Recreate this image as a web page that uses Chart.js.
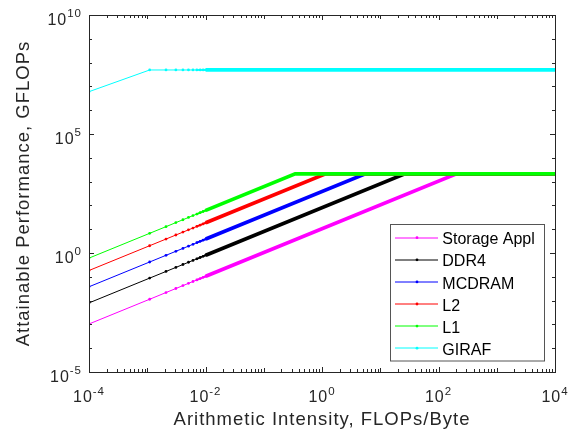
<!DOCTYPE html>
<html>
<head>
<meta charset="utf-8">
<script src="https://cdn.jsdelivr.net/npm/chart.js@4/dist/chart.umd.min.js"></script>
<style>
  html, body { margin: 0; padding: 0; background: #fff; }
  #wrap { width: 577px; height: 432px; }
</style>
</head>
<body>
<div id="wrap"><canvas id="roofline" width="577" height="432"></canvas></div>
<script>
// ========== DADOS ==========
// intensidade aritmética (FLOPs/Byte) dos marcadores visíveis
const markerX = [0.0001, 0.0011, 0.0021, 0.0031, 0.0041, 0.0051, 0.0061, 0.0071, 0.0081, 0.0091, 0.0101];

// desempenho (GFLOPs) em cada markerX
const storageAppl = [0.00104, 0.0114, 0.0218, 0.0322, 0.0426, 0.053, 0.0634, 0.0738, 0.0842, 0.0946, 0.105];
const ddr4 = [0.0080, 0.088, 0.168, 0.248, 0.328, 0.408, 0.488, 0.568, 0.648, 0.728, 0.808];
const mcdram = [0.0381, 0.419, 0.800, 1.18, 1.56, 1.94, 2.32, 2.71, 3.09, 3.47, 3.85];
const l2 = [0.184, 2.02, 3.86, 5.70, 7.54, 9.38, 11.2, 13.1, 14.9, 16.7, 18.6];
const l1 = [0.61, 6.71, 12.8, 18.9, 25.0, 31.1, 37.2, 43.3, 49.4, 55.5, 61.6];
const giraf = [6.0e6, 4.9e7, 4.9e7, 4.9e7, 4.9e7, 4.9e7, 4.9e7, 4.9e7, 4.9e7, 4.9e7, 4.9e7];

// ponto de cotovelo (ridge) e teto de cada série
const ridgeX = [203, 26.4, 5.54, 1.15, 0.346, 0.0011];
const peakY = [2110, 2110, 2110, 2110, 2110, 4.9e7];
const maxX = 1e4;

const seriesNames = ['Storage Appl', 'DDR4', 'MCDRAM', 'L2', 'L1', 'GIRAF'];
const seriesValues = [storageAppl, ddr4, mcdram, l2, l1, giraf];
const seriesColors = ['#ff00ff', '#000000', '#0000ff', '#ff0000', '#00ff00', '#00ffff'];

// ticks
const xMajorTicks = [1e-4, 1e-2, 1, 1e2, 1e4];
const xTickLabels = ['-4', '-2', '0', '2', '4'];
const yMajorTicks = [1e-5, 1, 1e5, 1e10];
const yTickLabels = ['-5', '0', '5', '10'];

const AXIS_COLOR = '#262626';
const FONT = "'Liberation Sans', Arial, Helvetica, sans-serif";

function buildPoints(vals, i) {
    const pts = markerX.map((x, k) => ({ x: x, y: vals[k] }));
    if (ridgeX[i] > markerX[markerX.length - 1]) {
        pts.push({ x: ridgeX[i], y: peakY[i] });
    }
    pts.push({ x: maxX, y: peakY[i] });
    return pts;
}

// marcadores se juntam a partir de ~1e-2, a linha fica grossa
function segmentWidth(ctx) {
    const x0 = ctx.p0.parsed.x;
    if (x0 >= 0.0101) return 3.7;
    if (x0 >= 0.0071) return 1.8;
    return 1;
}

const datasets = seriesValues.map((vals, i) => ({
    label: seriesNames[i],
    data: buildPoints(vals, i),
    showLine: true,
    borderColor: seriesColors[i],
    backgroundColor: seriesColors[i],
    borderWidth: 1,
    pointRadius: ctx => (ctx.dataIndex < markerX.length ? 1.4 : 0),
    pointBorderWidth: 0,
    pointBackgroundColor: seriesColors[i],
    borderJoinStyle: 'miter',
    segment: { borderWidth: segmentWidth },
    order: seriesNames.length - i
}));

// ========== EIXOS ESTILO MATLAB ==========
function drawPow(ctx, exp, x, baseMain, baseSup, align) {
    ctx.font = '16px ' + FONT;
    const w10 = ctx.measureText('10').width;
    ctx.font = '11.5px ' + FONT;
    const wExp = ctx.measureText(exp).width;
    const total = w10 + wExp;
    const start = align === 'center' ? x - total / 2 : x - total;
    ctx.textAlign = 'left';
    ctx.textBaseline = 'alphabetic';
    ctx.font = '16px ' + FONT;
    ctx.fillText('10', start, baseMain);
    ctx.font = '11.5px ' + FONT;
    ctx.fillText(exp, start + w10, baseSup);
}

const matlabAxes = {
    id: 'matlabAxes',
    afterDraw(chart) {
        const { ctx, chartArea: a } = chart;
        const sx = chart.scales.x;
        const sy = chart.scales.y;
        ctx.save();
        ctx.strokeStyle = AXIS_COLOR;
        ctx.fillStyle = AXIS_COLOR;
        ctx.lineWidth = 1;
        ctx.strokeRect(a.left + 0.5, a.top + 0.5, a.right - a.left, a.bottom - a.top);

        // ticks do eixo x
        ctx.beginPath();
        for (let n = -4; n <= 4; n++) {
            for (let k = 1; k <= 9; k++) {
                const v = k * Math.pow(10, n);
                if (v > maxX * 1.0001) break;
                const px = Math.round(sx.getPixelForValue(v)) + 0.5;
                const len = (k === 1 && n % 2 === 0) ? 5 : (k === 1 ? 4 : 3);
                ctx.moveTo(px, a.bottom);
                ctx.lineTo(px, a.bottom - len);
                ctx.moveTo(px, a.top);
                ctx.lineTo(px, a.top + len);
            }
        }
        // ticks do eixo y
        for (let n = -5; n <= 10; n++) {
            const py = Math.round(sy.getPixelForValue(Math.pow(10, n))) + 0.5;
            const len = (n % 5 === 0) ? 5 : 3;
            ctx.moveTo(a.left, py);
            ctx.lineTo(a.left + len, py);
            ctx.moveTo(a.right, py);
            ctx.lineTo(a.right - len, py);
        }
        ctx.stroke();

        // rótulos dos ticks
        ctx.letterSpacing = '1px';
        xMajorTicks.forEach((v, i) => {
            const px = sx.getPixelForValue(v);
            drawPow(ctx, xTickLabels[i], px, a.bottom + 29.5, a.bottom + 22.7, 'center');
        });
        yMajorTicks.forEach((v, i) => {
            const py = sy.getPixelForValue(v);
            drawPow(ctx, yTickLabels[i], a.left - 7, py + 10, py + 2, 'right');
        });

        // títulos dos eixos
        ctx.font = '18.5px ' + FONT;
        ctx.textAlign = 'center';
        ctx.textBaseline = 'alphabetic';
        ctx.fillText('Arithmetic Intensity, FLOPs/Byte', (a.left + a.right) / 2, 425);
        ctx.save();
        ctx.translate(28.5, (a.top + a.bottom) / 2);
        ctx.rotate(-Math.PI / 2);
        ctx.fillText('Attainable Performance, GFLOPs', 0, 0);
        ctx.restore();
        ctx.letterSpacing = '0px';

        // legenda
        const lx = 390.5, ly = 224.5, lw = 154, lh = 136.5;
        ctx.fillStyle = '#ffffff';
        ctx.fillRect(lx, ly, lw, lh);
        ctx.strokeStyle = '#555555';
        ctx.strokeRect(lx, ly, lw, lh);
        ctx.font = '16px ' + FONT;
        ctx.textAlign = 'left';
        seriesNames.forEach((name, i) => {
            const cy = 237.7 + i * 22.1;
            ctx.strokeStyle = seriesColors[i];
            ctx.lineWidth = 1;
            ctx.beginPath();
            ctx.moveTo(395, Math.round(cy));
            ctx.lineTo(438, Math.round(cy));
            ctx.stroke();
            ctx.fillStyle = seriesColors[i];
            ctx.beginPath();
            ctx.arc(417, cy, 1.4, 0, Math.PI * 2);
            ctx.fill();
            ctx.fillStyle = '#000000';
            ctx.fillText(name, 442.3, cy + 6.6);
        });
        ctx.restore();
    }
};

// ========== GRÁFICO ==========
const chart = new Chart(document.getElementById('roofline').getContext('2d'), {
    type: 'scatter',
    data: { datasets: datasets },
    options: {
        responsive: false,
        animation: false,
        layout: { padding: { top: 15, right: 22, left: 0, bottom: 0 } },
        plugins: {
            legend: { display: false },
            tooltip: { enabled: false }
        },
        scales: {
            x: {
                type: 'logarithmic',
                min: 1e-4,
                max: 1e4,
                ticks: { display: false },
                grid: { display: false },
                border: { display: false },
                afterFit: s => { s.height = 60; }
            },
            y: {
                type: 'logarithmic',
                min: 1e-5,
                max: 1e10,
                ticks: { display: false },
                grid: { display: false },
                border: { display: false },
                afterFit: s => { s.width = 89; }
            }
        }
    },
    plugins: [matlabAxes]
});
</script>
</body>
</html>
